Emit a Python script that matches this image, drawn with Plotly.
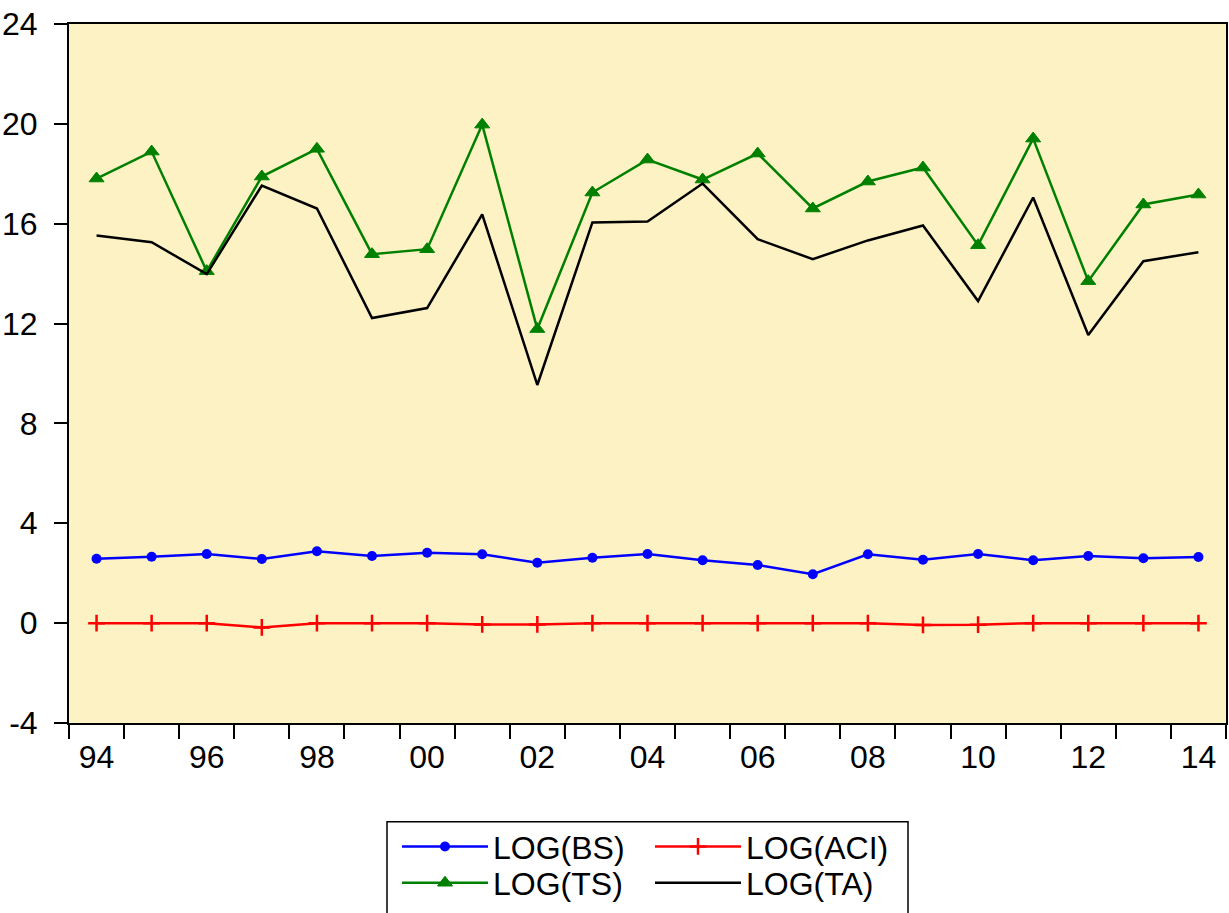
import plotly.graph_objects as go

years = list(range(1994, 2015))
log_bs = [2.58, 2.66, 2.77, 2.57, 2.88, 2.69, 2.82, 2.76, 2.42, 2.62, 2.77,
          2.52, 2.33, 1.96, 2.76, 2.54, 2.77, 2.52, 2.69, 2.60, 2.65]
log_aci = [0.0, 0.0, 0.0, -0.17, 0.0, 0.0, 0.0, -0.05, -0.05, 0.0, 0.0,
           0.0, 0.0, 0.0, 0.0, -0.07, -0.06, 0.0, 0.0, 0.0, 0.0]
log_ts = [17.81, 18.89, 14.10, 17.89, 19.00, 14.78, 14.98, 19.97, 11.78, 17.25, 18.57,
          17.77, 18.81, 16.61, 17.69, 18.25, 15.14, 19.41, 13.70, 16.77, 17.17]
log_ta = [15.53, 15.26, 13.98, 17.53, 16.61, 12.22, 12.62, 16.37, 9.54, 16.05, 16.09,
          17.61, 15.38, 14.58, 15.33, 15.93, 12.90, 17.05, 11.54, 14.50, 14.86]

y_ticks = [-4, 0, 4, 8, 12, 16, 20, 24]
y_ticktext = ["-4", "0", "4", "8", "12", "16", "20", "24"]
x_label_years = [1994, 1996, 1998, 2000, 2002, 2004, 2006, 2008, 2010, 2012, 2014]
x_ticktext = ["94", "96", "98", "00", "02", "04", "06", "08", "10", "12", "14"]
band_edges = [y - 0.5 for y in years] + [years[-1] + 0.5]

W, H = 1229, 913
ML, MR, MT, MB = 69, 3, 24, 188
PW = W - ML - MR
PH = H - MT - MB

def px_x(p):
    return (p - ML) / PW

def px_y(p):
    return (H - MB - p) / PH

FONT = "Liberation Sans, Arial, sans-serif"
FS = 32

fig = go.Figure()
fig.add_trace(go.Scatter(x=years, y=log_bs, name="LOG(BS)", mode="lines+markers",
                         line=dict(color="#0000FF", width=2.5),
                         marker=dict(symbol="circle", size=10, color="#0000FF"),
                         legend="legend"))
fig.add_trace(go.Scatter(x=years, y=log_aci, name="LOG(ACI)", mode="lines+markers",
                         line=dict(color="#FF0000", width=2.5),
                         marker=dict(symbol="cross-thin", size=12,
                                     line=dict(color="#FF0000", width=2.5)),
                         legend="legend2"))
fig.add_trace(go.Scatter(x=years, y=log_ts, name="LOG(TS)", mode="lines+markers",
                         line=dict(color="#008000", width=2.5),
                         marker=dict(symbol="triangle-up", size=13, color="#008000",
                                     line=dict(color="#008000", width=1)),
                         legend="legend3"))
fig.add_trace(go.Scatter(x=years, y=log_ta, name="LOG(TA)", mode="lines",
                         line=dict(color="#000000", width=2.5),
                         legend="legend4"))

legend_common = dict(
    orientation="v", xanchor="left",
    font=dict(family=FONT, size=FS, color="black"),
    bgcolor="rgba(0,0,0,0)", borderwidth=0, itemwidth=86,
)

COL1, COL2 = 397, 650
ROW1 = 849
ROW2_BOTTOM = 913

fig.update_layout(
    width=W, height=H,
    margin=dict(l=ML, r=MR, t=MT, b=MB, pad=0),
    paper_bgcolor="white",
    plot_bgcolor="rgb(252,242,196)",
    font=dict(family=FONT, size=FS, color="black"),
    showlegend=True,
    legend=dict(x=px_x(COL1), y=px_y(ROW1), yanchor="middle", **legend_common),
    legend2=dict(x=px_x(COL2), y=px_y(ROW1), yanchor="middle", **legend_common),
    legend3=dict(x=px_x(COL1), y=px_y(ROW2_BOTTOM), yanchor="bottom", **legend_common),
    legend4=dict(x=px_x(COL2), y=px_y(ROW2_BOTTOM), yanchor="bottom", **legend_common),
    xaxis=dict(
        range=[1993.5, 2014.5], automargin=False,
        tickmode="array", tickvals=x_label_years, ticktext=x_ticktext,
        ticks="outside", ticklen=14, tickcolor="rgba(0,0,0,0)", tickwidth=1,
        ticklabelstandoff=-9,
        minor=dict(tickmode="array", tickvals=band_edges, ticks="outside",
                   ticklen=14, tickwidth=1.5, tickcolor="black", showgrid=False),
        showgrid=False, zeroline=False,
        showline=True, linecolor="black", linewidth=2, mirror=True,
        tickfont=dict(family=FONT, size=FS, color="black"),
    ),
    yaxis=dict(
        range=[-4, 24], automargin=False,
        tickmode="array", tickvals=y_ticks, ticktext=y_ticktext,
        ticks="outside", ticklen=13, tickwidth=1.5, tickcolor="black",
        ticklabelstandoff=10,
        showgrid=False, zeroline=False,
        showline=True, linecolor="black", linewidth=2, mirror=True,
        tickfont=dict(family=FONT, size=FS, color="black"),
    ),
    shapes=[dict(type="rect", xref="paper", yref="paper",
                 x0=px_x(387), x1=px_x(908), y0=px_y(940), y1=px_y(824),
                 line=dict(color="black", width=1.5), fillcolor="rgba(0,0,0,0)")],
)

fig.write_html(
    "out.html",
    config={"displayModeBar": False},
    post_script="document.body.style.margin='0';document.body.style.overflow='hidden';",
)
